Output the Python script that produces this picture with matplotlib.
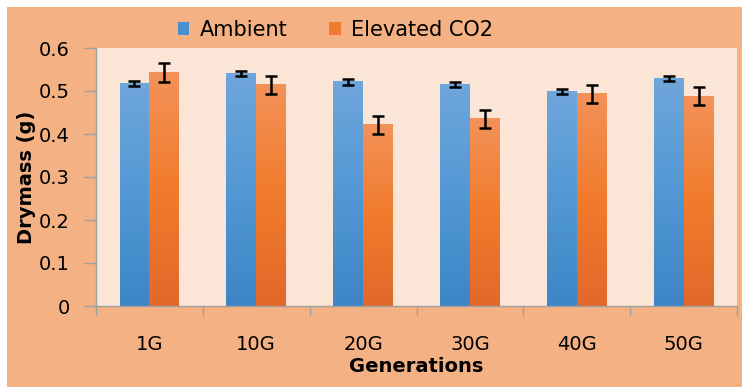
import numpy as np
import matplotlib
matplotlib.use("Agg")
import matplotlib.pyplot as plt
from matplotlib.colors import LinearSegmentedColormap
from matplotlib.patches import Rectangle, Patch

plt.rcParams['font.family'] = ['DejaVu Sans']

generations = ['1G', '10G', '20G', '30G', '40G', '50G']
ambient = [0.518, 0.540, 0.521, 0.516, 0.499, 0.530]
ambient_err = [0.006, 0.006, 0.006, 0.006, 0.006, 0.006]
elevated = [0.543, 0.514, 0.421, 0.435, 0.494, 0.488]
elevated_err = [0.021, 0.021, 0.021, 0.020, 0.021, 0.021]

blue_cmap = LinearSegmentedColormap.from_list('b', ['#3d85c6', '#5298d5', '#6fa6db'])
orange_cmap = LinearSegmentedColormap.from_list('o', ['#e2682a', '#f17b2c', '#f39259'])

fig = plt.figure(figsize=(7.42, 3.87), dpi=100, facecolor='white')
fig.patches.append(Rectangle((7 / 742, 0), 1, 1 - 7 / 387, transform=fig.transFigure,
                             facecolor='#f4b183', edgecolor='none', zorder=-10))
ax = fig.add_axes([96 / 742, 1 - 306 / 387, 641 / 742, 258 / 387])
ax.set_facecolor('#fbe5d6')

x = np.arange(len(generations))
w = 0.28
grad = np.linspace(0, 1, 256).reshape(-1, 1)


def grad_bars(xs, vals, cmap):
    for xi, v in zip(xs, vals):
        ax.imshow(grad, cmap=cmap, origin='lower', aspect='auto',
                  extent=[xi - w / 2, xi + w / 2, 0, v], zorder=2)


grad_bars(x - w / 2, ambient, blue_cmap)
grad_bars(x + w / 2, elevated, orange_cmap)

ax.errorbar(x - w / 2, ambient, yerr=ambient_err, fmt='none', ecolor='black',
            elinewidth=1.8, capsize=4, capthick=1.8, zorder=3)
ax.errorbar(x + w / 2, elevated, yerr=elevated_err, fmt='none', ecolor='black',
            elinewidth=1.8, capsize=4, capthick=1.8, zorder=3)

ax.set_xlim(-0.5, len(generations) - 0.5)
ax.set_ylim(0, 0.6)
ax.set_yticks(np.arange(0, 0.61, 0.1))
ax.set_yticklabels(['0', '0.1', '0.2', '0.3', '0.4', '0.5', '0.6'])
ax.set_xticks(x)
ax.set_xticklabels(generations)
ax.set_xticks(np.arange(-0.5, len(generations)), minor=True)
ax.tick_params(axis='x', which='major', length=0, pad=21, labelsize=14)
ax.tick_params(axis='x', which='minor', length=7, color='#a0a0a0', width=1)
ax.tick_params(axis='y', length=9, color='#a0a0a0', width=1, labelsize=14, pad=10)

for s in ['top', 'right']:
    ax.spines[s].set_visible(False)
for s in ['left', 'bottom']:
    ax.spines[s].set_color('#a0a0a0')
    ax.spines[s].set_linewidth(1)

ax.set_xlabel('Generations', fontsize=14, fontweight='bold', labelpad=2)
ax.set_ylabel('Drymass (g)', fontsize=14, fontweight='bold', labelpad=2)

handles = [Patch(facecolor='#4a90d0', label='Ambient'),
           Patch(facecolor='#ef7a30', label='Elevated CO2')]
fig.legend(handles=handles, loc='center', bbox_to_anchor=(0.452, 1 - 30 / 387), ncol=2,
           frameon=False, fontsize=15, handlelength=0.55, handleheight=0.55,
           handletextpad=0.5, columnspacing=2.0)

fig.savefig('out.png', dpi=100, facecolor=fig.get_facecolor())
